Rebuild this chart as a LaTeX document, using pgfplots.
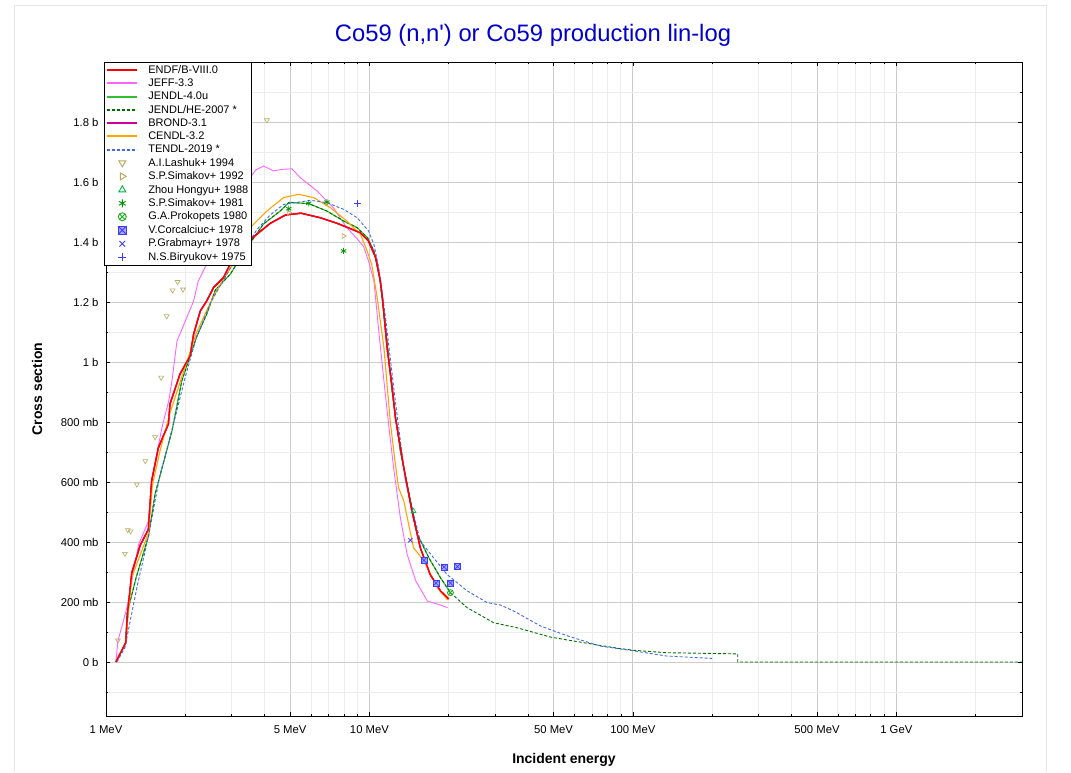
\documentclass[border=0pt]{standalone}
\usepackage{pgfplots}
\pgfplotsset{compat=1.18}
\usepackage{fontspec}
\setmainfont{Liberation Sans}
\newfontfamily\plainfont{Liberation Sans}
\definecolor{cendf}{RGB}{255,0,0}
\definecolor{cjeff}{RGB}{255,100,255}
\definecolor{cjendl}{RGB}{50,190,50}
\definecolor{cjendlhe}{RGB}{0,110,0}
\definecolor{cbrond}{RGB}{204,0,153}
\definecolor{ccendl}{RGB}{255,165,0}
\definecolor{ctendl}{RGB}{65,105,230}
\definecolor{colive}{RGB}{180,170,90}
\definecolor{czhou}{RGB}{0,180,70}
\definecolor{csim}{RGB}{0,150,0}
\definecolor{cprok}{RGB}{30,170,30}
\definecolor{cblue}{RGB}{60,60,255}
\definecolor{titleblue}{RGB}{0,0,204}
\definecolor{framegray}{RGB}{230,230,230}
\pgfdeclareplotmark{boxx}{%
  \pgfpathrectangle{\pgfpoint{-\pgfplotmarksize}{-\pgfplotmarksize}}{\pgfpoint{2\pgfplotmarksize}{2\pgfplotmarksize}}%
  \pgfusepathqfillstroke
  \pgfpathmoveto{\pgfpoint{-\pgfplotmarksize}{-\pgfplotmarksize}}\pgfpathlineto{\pgfpoint{\pgfplotmarksize}{\pgfplotmarksize}}%
  \pgfpathmoveto{\pgfpoint{-\pgfplotmarksize}{\pgfplotmarksize}}\pgfpathlineto{\pgfpoint{\pgfplotmarksize}{-\pgfplotmarksize}}%
  \pgfusepathqstroke}
\pgfplotstableread{
E s
1.09 0
1.188 64
1.21 170
1.253 298
1.35 390
1.448 442
1.49 603
1.58 714
1.725 793
1.75 860
1.91 960
2.085 1020
2.15 1092
2.28 1170
2.41 1203
2.56 1248
2.79 1281
2.96 1326
3.23 1360
3.63 1417
4.2 1462
4.8 1490
5.5 1496
6.5 1481
7.55 1462
8.44 1445
9.22 1431
9.92 1403
10.56 1348
11.0 1270
11.2 1214
11.67 1048
12.2 914
12.55 814
13.5 648
14.5 503
15.6 381
17.0 292
18.6 237
19.8 214
20 210
}\endf
\begin{document}
\begin{tikzpicture}[x=1pt,y=1pt]
\path[use as bounding box] (0,0) rectangle (1071,772);
\draw[color=framegray] (14,0) -- (14,767) -- (1046,767) -- (1046,0);
\node[font=\plainfont\fontsize{23.8}{27}\selectfont, text=titleblue] at (533,737) {Co59 (n,n') or Co59 production lin-log};
\begin{axis}[
  at={(106pt,56pt)}, anchor=south west,
  width=916pt, height=654pt, scale only axis,
  xmode=log, xmin=1, xmax=3000, ymin=-180, ymax=2000,
  xtick={1,5,10,50,100,500,1000},
  xticklabels={1 MeV,5 MeV,10 MeV,50 MeV,100 MeV,500 MeV,1 GeV},
  minor xtick={2,3,4,6,7,8,9,20,30,40,60,70,80,90,200,300,400,600,700,800,900,2000,3000},
  ytick={0,200,400,600,800,1000,1200,1400,1600,1800},
  yticklabels={0 b,200 mb,400 mb,600 mb,800 mb,1 b,1.2 b,1.4 b,1.6 b,1.8 b},
  minor ytick={-100,100,300,500,700,900,1100,1300,1500,1700,1900},
  grid=both,
  major grid style={color=black!20, line width=0.8pt},
  minor grid style={color=black!7, line width=0.8pt},
  tick style={black, line width=0.6pt},
  major tick length=4pt, minor tick length=2.5pt,
  axis line style={black, line width=0.8pt},
  xticklabel style={font=\fontsize{11.3}{13}\selectfont, yshift=-6pt},
  yticklabel style={font=\fontsize{11.3}{13}\selectfont, xshift=-4pt},
  xlabel={\fontsize{14}{16}\selectfont\bfseries Incident energy},
  ylabel={\fontsize{14}{16}\selectfont\bfseries Cross section},
  every axis x label/.style={at={(axis description cs:0.5,-0.0673)}, anchor=center},
  every axis y label/.style={at={(axis description cs:-0.0753,0.5)}, rotate=90, anchor=center},
  legend image code/.code={\draw[mark repeat=2,mark phase=2,#1] plot coordinates {(0pt,0pt) (15pt,0pt) (30pt,0pt)};},
  legend image post style={line width=2pt, mark size=4pt, every mark/.append style={line width=0.9pt}},
  legend cell align=left,
  legend style={at={(0,1)}, anchor=north west, xshift=-2pt, font=\fontsize{11}{13}\selectfont,
    draw=black, fill=white, line width=0.6pt, inner sep=2pt, row sep=2pt, column sep=9pt,
    nodes={inner sep=1pt}},
]
% ENDF/B-VIII.0
\addplot[color=cendf, line width=1.3pt] table[x=E,y=s] {\endf};
\addlegendentry{ENDF/B-VIII.0}
% JEFF-3.3
\addplot[color=cjeff, line width=0.9pt] coordinates {
(1.09,0)(1.11,70)(1.2,180)(1.33,392)(1.45,470)(1.49,603)(1.63,781)(1.73,870)(1.78,937)(1.86,1070)(2.05,1159)(2.15,1203)(2.24,1270)(2.41,1326)(2.63,1414)(2.88,1470)(3.23,1537)(3.43,1600)(3.7,1640)(3.96,1653)(4.33,1637)(4.65,1642)(5.08,1644)(5.47,1614)(6.33,1570)(6.9,1537)(7.3,1514)(8.2,1448)(9.0,1410)(9.5,1385)(9.92,1337)(10.4,1270)(10.85,1103)(11.35,937)(11.9,770)(12.35,648)(13.1,481)(13.9,359)(15.0,270)(16.6,203)(18.6,190)(19.8,181)};
\addlegendentry{JEFF-3.3}
% JENDL-4.0u
\addplot[color=cjendl, line width=1.1pt] coordinates {
(1.09,0)(1.188,64)(1.2,159)(1.3,280)(1.45,420)(1.535,559)(1.78,770)(1.94,937)(2.21,1085)(2.41,1159)(2.6,1240)(2.96,1292)(3.43,1381)(3.96,1460)(4.58,1503)(4.95,1532)(5.88,1528)(6.9,1503)(7.98,1470)(8.98,1448)(9.84,1414)(10.4,1370)(10.9,1290)(11.5,1120)(12.2,900)(13.1,703)(15.2,426)(16.8,348)(18.6,281)(20.3,231)};
\addlegendentry{JENDL-4.0u}
% JENDL/HE-2007
\addplot[color=cjendlhe, line width=0.9pt, dash pattern=on 3pt off 2pt] coordinates {
(1.09,0)(1.188,64)(1.2,159)(1.3,280)(1.45,420)(1.535,559)(1.78,770)(1.94,937)(2.21,1085)(2.41,1159)(2.6,1240)(2.96,1292)(3.43,1381)(3.96,1460)(4.58,1503)(4.95,1532)(5.88,1528)(6.9,1503)(7.98,1470)(8.98,1448)(9.84,1414)(10.4,1370)(10.9,1290)(11.5,1120)(12.2,900)(13.1,703)(15.2,426)(16.8,348)(18.6,281)(20.3,231)(23.5,181)(29.6,131)(36.4,114)(48.7,83)(65.4,64)(87.3,46)(100.9,39)(134,31)(250,27)(250,0)(3000,0)};
\addlegendentry{JENDL/HE-2007 *}
% BROND-3.1
\addplot[color=cbrond, line width=1.3pt] table[x=E,y=s] {\endf};
\addlegendentry{BROND-3.1}
% CENDL-3.2
\addplot[color=ccendl, line width=1.1pt] coordinates {
(1.09,0)(1.188,64)(1.25,280)(1.45,430)(1.5,590)(1.6,700)(1.75,830)(1.94,950)(2.2,1095)(2.45,1185)(2.7,1255)(3.0,1320)(3.53,1448)(4.08,1503)(4.72,1548)(5.38,1559)(6.13,1548)(7.12,1514)(8.2,1470)(9.24,1426)(9.8,1370)(10.2,1326)(10.7,1214)(11.35,1048)(12.0,800)(12.5,670)(12.9,581)(13.5,537)(14.7,381)(16.1,337)(18.1,248)(19.8,207)};
\addlegendentry{CENDL-3.2}
% TENDL-2019
\addplot[color=ctendl, line width=0.9pt, dash pattern=on 3pt off 2pt] coordinates {
(1.1,0)(1.18,48)(1.31,248)(1.45,420)(1.6,620)(1.8,790)(2.0,950)(2.2,1080)(2.5,1200)(3.0,1320)(3.5,1400)(3.73,1440)(4.2,1490)(4.72,1525)(5.97,1539)(6.9,1531)(7.98,1509)(8.98,1481)(9.92,1437)(10.4,1392)(10.85,1314)(11.5,1150)(12.5,880)(13.7,603)(14.5,514)(15.6,403)(17.5,348)(19.7,292)(23.5,237)(28.0,198)(31.4,190)(35.3,170)(44.6,120)(56.5,87)(75.3,53)(101,37)(134,20)(200,12)};
\addlegendentry{TENDL-2019 *}

% Experimental data
\addplot[only marks, mark=triangle, mark size=2.8pt, mark options={draw=colive, rotate=180, line width=0.6pt}] coordinates {
(1.11,72)(1.18,361)(1.21,440)(1.24,436)(1.31,592)(1.41,670)(1.535,750)(1.62,948)(1.70,1153)(1.79,1239)(1.87,1267)(1.96,1242)(2.48,1667)(2.63,1759)(4.08,1806)};
\addlegendentry{A.I.Lashuk+ 1994}
\addplot[only marks, mark=triangle, mark size=2.8pt, mark options={draw=colive, rotate=-90, line width=0.6pt}] coordinates {
(4.94,1498)(6.9,1530)(7.98,1420)};
\addlegendentry{S.P.Simakov+ 1992}
\addplot[only marks, mark=triangle, mark size=2.8pt, mark options={draw=czhou, line width=0.6pt}] coordinates {
(14.7,503)};
\addlegendentry{Zhou Hongyu+ 1988}
\addplot[only marks, mark=asterisk, mark size=3pt, mark options={draw=csim, line width=0.8pt}] coordinates {
(4.94,1511)(5.88,1529)(6.9,1533)(7.98,1370)};
\addlegendentry{S.P.Simakov+ 1981}
\addplot[only marks, mark=otimes, mark size=3pt, mark options={draw=cprok, line width=0.8pt}] coordinates {
(20.3,231)};
\addlegendentry{G.A.Prokopets 1980}
\addplot[only marks, mark=boxx, mark size=3pt, mark options={draw=cblue, fill=cblue!45, line width=0.6pt}] coordinates {
(16.1,339)(19.2,317)(21.6,318)(17.9,263)(20.3,263)};
\addlegendentry{V.Corcalciuc+ 1978}
\addplot[only marks, mark=x, mark size=3pt, mark options={draw=cblue, line width=0.8pt}] coordinates {
(14.3,406)};
\addlegendentry{P.Grabmayr+ 1978}
\addplot[only marks, mark=+, mark size=3.5pt, mark options={draw=cblue, line width=0.8pt}] coordinates {
(8.97,1529)};
\addlegendentry{N.S.Biryukov+ 1975}
% redraw ENDF on top
\addplot[forget plot, color=cendf, line width=1.3pt] table[x=E,y=s] {\endf};
\end{axis}
\end{tikzpicture}
\end{document}
